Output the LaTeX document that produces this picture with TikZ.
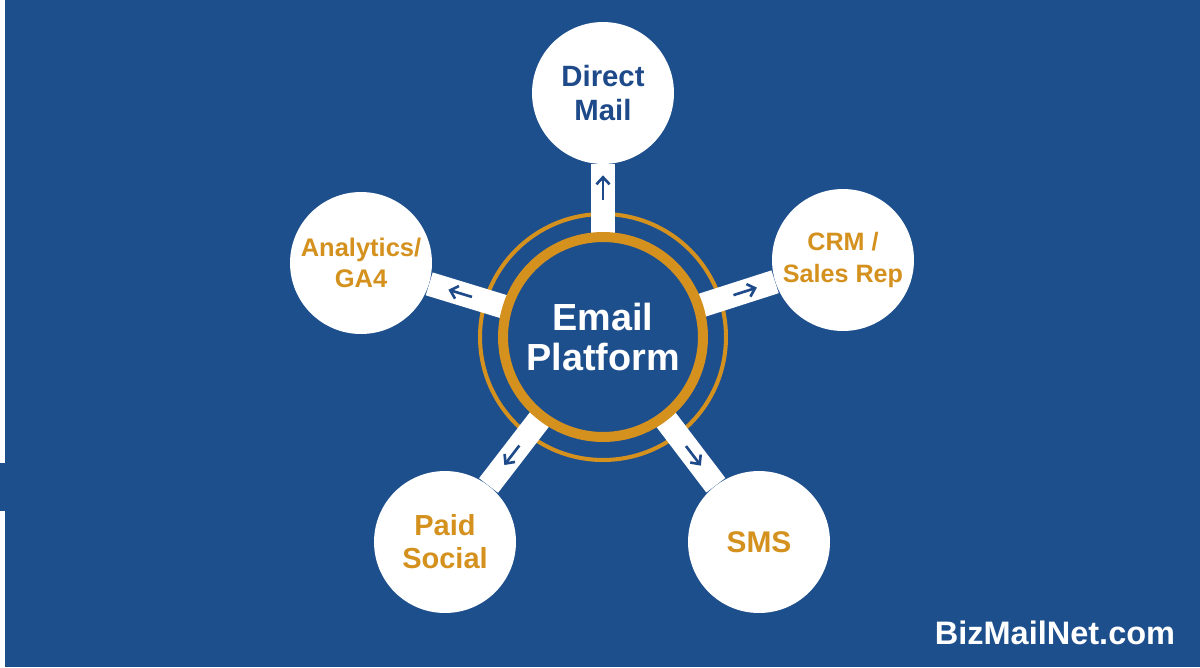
\documentclass[tikz,border=0pt]{standalone}
\usepackage{fontspec}
\setmainfont{Liberation Sans}
\usepackage{xcolor}
\usepackage{tikz}
\usetikzlibrary{calc,arrows.meta}
\definecolor{bg}{HTML}{1E4F8D}
\definecolor{gold}{HTML}{D4911E}
\definecolor{navy}{HTML}{1F4A8A}
\tikzset{
  hubNode/.style={circle, draw=gold, line width=5.7pt, fill=bg, minimum size=4cm, inner sep=0pt,
    text=white, align=center, font=\fontsize{21.5}{23}\selectfont\bfseries},
  satNode/.style={circle, fill=white, minimum size=2.84cm, inner sep=0pt, align=center, text=gold},
  ringLine/.style={draw=gold, line width=2.3pt},
  barLine/.style={draw=white, line width=13.6pt},
  flowArrow/.style={-{Straight Barb[length=4pt,width=7.5pt]}, draw=navy, line width=1.5pt},
  brandText/.style={text=white, font=\fontsize{18.5}{20}\selectfont\bfseries}
}
\begin{document}
\begin{tikzpicture}[x=0.02cm, y=-0.02cm]
  \useasboundingbox (0,0) rectangle (1200,667);
  \fill[bg] (0,0) rectangle (1200,667);
  \fill[white] (0,0) rectangle (4.5,463);
  \fill[white] (0,511) rectangle (4.5,667);

  \coordinate (c) at (603,337);
  \draw[ringLine] (c) circle (2.46cm);

  \node[satNode, text=navy, font=\fontsize{16.7}{19.3}\selectfont\bfseries] (mail) at (603,93) {Direct\\Mail};
  \node[satNode, font=\fontsize{14.3}{18.7}\selectfont\bfseries] (crm) at (843,260) {CRM /\\Sales Rep};
  \node[satNode, font=\fontsize{14.5}{18}\selectfont\bfseries] (ga) at (361,263) {Analytics/\\GA4};
  \node[satNode, font=\fontsize{16.5}{18.7}\selectfont\bfseries] (paid) at (445,542) {Paid\\Social};
  \node[satNode, font=\fontsize{17}{19}\selectfont\bfseries] (sms) at (759,542) {SMS};

  \foreach \s in {mail,crm,ga,paid,sms}
    \draw[barLine] (c) -- (\s);

  \node[hubNode] (hub) at (c) {Email\\Platform};

  \foreach \s in {mail,crm,ga,paid,sms}
    \draw[flowArrow] ($(c)!78pt!(\s)$) -- ($(c)!92pt!(\s)$);

  \node[brandText] (brand) at (1055,633) {BizMailNet.com};
\end{tikzpicture}
\end{document}
